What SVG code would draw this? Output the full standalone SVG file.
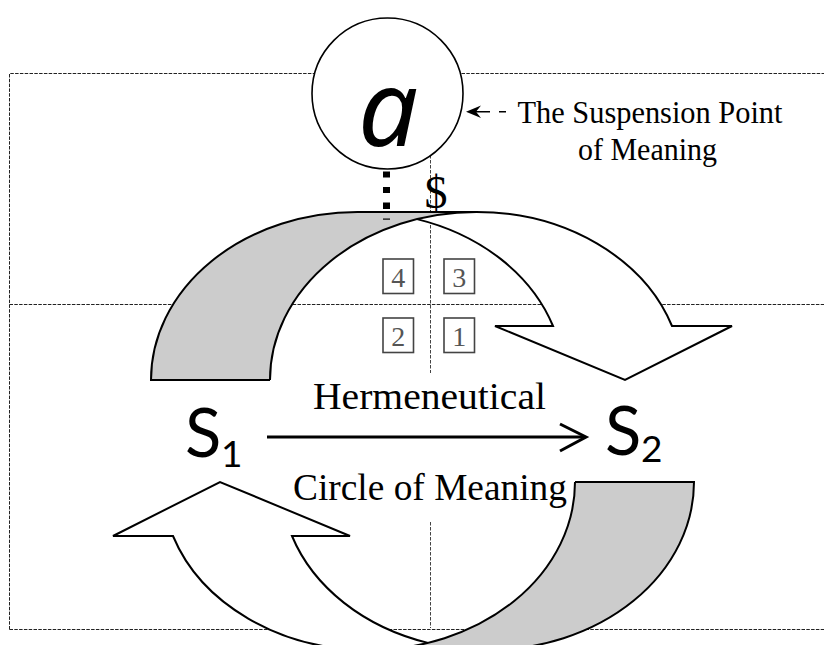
<svg xmlns="http://www.w3.org/2000/svg" xmlns:xlink="http://www.w3.org/1999/xlink" width="824" height="645" viewBox="0 0 824 645">
<style>
.dash{fill:none;stroke:#222;stroke-width:1;stroke-dasharray:3.5 1.3}
.vdash{fill:none;stroke:#444;stroke-width:1;stroke-dasharray:3.5 1.5}
.outline{fill:none;stroke:#000;stroke-width:2;stroke-linejoin:miter}
.serif{font-family:"Liberation Serif","DejaVu Serif",serif;fill:#000}
.num{font-family:"Liberation Serif","DejaVu Serif",serif;font-size:28px;fill:#555;text-anchor:middle}
.box{fill:none;stroke:#444;stroke-width:1.6}
.sym{font-family:Lato,"Noto Sans",sans-serif;fill:#000}
</style>
<defs>
<g id="arrowShape">
<path d="M625 380 L495 326 L553 326 A206.5 168 0 0 0 357.5 212 L476.5 212 A206.5 168 0 0 1 672 326 L732 326 Z" fill="#fff"/>
<path d="M270 380 A206.5 168 0 0 1 476.5 212 L357.5 212 A206.5 168 0 0 0 151 380 Z" fill="#ccc"/>
<path class="outline" d="M270 380 L151 380 A206.5 168 0 0 1 357.5 212 L476.5 212 A206.5 168 0 0 1 672 326 L732 326 L625 380 L495 326 L553 326 A206.5 168 0 0 0 417 219.1"/>
<path class="outline" d="M270 380 A206.5 168 0 0 1 476.5 212"/>
</g>
</defs>
<g id="frame">
<path class="dash" d="M9.5 629.5 V73.5 H824"/>
<path class="dash" d="M9.5 304.5 H824"/>
<path class="dash" d="M9.5 629.5 H824"/>
<path class="vdash" d="M430.5 150 V373"/>
<path class="vdash" d="M430.5 522 V628"/>
</g>
<g id="upperArrow">
<use xlink:href="#arrowShape"/>
</g>
<g id="lowerArrow">
<use xlink:href="#arrowShape" transform="rotate(180 422.5 431)"/>
</g>
<g id="nodeA">
<circle cx="387.5" cy="93.5" r="75.5" fill="#fff" stroke="#000" stroke-width="1.6"/>
<text x="388" y="146" font-family="'Noto Sans','Open Sans',sans-serif" font-style="italic" font-size="106" text-anchor="middle">a</text>
</g>
<g id="connectors">
<rect x="383" y="171.5" width="7" height="6"/>
<rect x="383" y="187" width="7" height="6"/>
<rect x="383" y="202.5" width="7" height="6.5"/>
<rect x="383" y="218.5" width="7" height="1.2"/>
<path d="M472 111.7 H490 M499 111.7 H506" stroke="#000" stroke-width="1.6" fill="none"/>
<path d="M466 111.7 L481 105.5 L476 111.7 L481 118 Z" fill="#000"/>
<path d="M267 437 H585" stroke="#000" stroke-width="3" fill="none"/>
<path d="M560 424 L586 437 L560 451" stroke="#000" stroke-width="3" fill="none"/>
</g>
<g id="label">
<text class="serif" x="650" y="123" font-size="31" text-anchor="middle" textLength="265" lengthAdjust="spacingAndGlyphs">The Suspension Point</text>
<text class="serif" x="647.5" y="160" font-size="31" text-anchor="middle" textLength="139" lengthAdjust="spacingAndGlyphs">of Meaning</text>
</g>
<g id="dollar">
<text class="serif" x="436" y="208" font-size="46" text-anchor="middle">$</text>
</g>
<g id="quadrants">
<rect class="box" x="383" y="259" width="30.5" height="34.5"/>
<text class="num" x="398.2" y="287">4</text>
<rect class="box" x="444" y="259" width="30.5" height="34.5"/>
<text class="num" x="459.2" y="287">3</text>
<rect class="box" x="383" y="318" width="30.5" height="34.5"/>
<text class="num" x="398.2" y="346">2</text>
<rect class="box" x="444" y="318" width="30.5" height="34.5"/>
<text class="num" x="459.2" y="346">1</text>
</g>
<g id="S1">
<text class="sym" x="185" y="457" font-size="67">S</text>
<text class="sym" x="221" y="467" font-size="37">1</text>
</g>
<g id="S2">
<text class="sym" x="605" y="455" font-size="67">S</text>
<text class="sym" x="641" y="462" font-size="37">2</text>
</g>
<g id="circleText">
<text class="serif" x="429.5" y="409" font-size="37" text-anchor="middle" textLength="233" lengthAdjust="spacingAndGlyphs">Hermeneutical</text>
<text class="serif" x="430" y="500" font-size="37" text-anchor="middle" textLength="274" lengthAdjust="spacingAndGlyphs">Circle of Meaning</text>
</g>
</svg>
